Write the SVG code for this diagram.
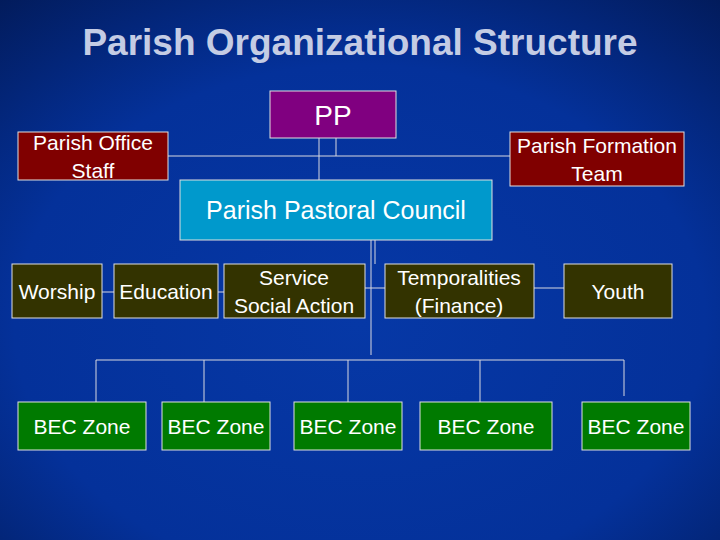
<svg xmlns="http://www.w3.org/2000/svg" width="720" height="540" viewBox="0 0 720 540">
<defs>
<radialGradient id="bg" cx="0.5" cy="0.6" r="0.8">
<stop offset="0" stop-color="#0638a6"/><stop offset="0.6" stop-color="#04319a"/><stop offset="1" stop-color="#021a58"/>
</radialGradient>
<style>
rect.n{stroke:#e0e0e0;stroke-width:1}
text{font-family:"Liberation Sans",Arial,sans-serif;fill:#fff;font-size:21px;text-anchor:middle}
.c line{stroke:#d8d8e0;stroke-width:1}
</style>
</defs>
<rect width="720" height="540" fill="url(#bg)"/>
<text x="360" y="55" style="font-size:37px;font-weight:bold;fill:#c4cce4">Parish Organizational Structure</text>
<g class="c">
<line x1="319" y1="138" x2="319" y2="180"/><line x1="336" y1="138" x2="336" y2="156"/>
<line x1="168" y1="156" x2="510" y2="156"/>
<line x1="371" y1="240" x2="371" y2="355"/><line x1="375" y1="240" x2="375" y2="264"/>
<line x1="102" y1="292" x2="114" y2="292"/><line x1="218" y1="292" x2="236" y2="292"/>
<line x1="355" y1="288" x2="392" y2="288"/><line x1="534" y1="288" x2="564" y2="288"/>
<line x1="96" y1="360" x2="624" y2="360"/>
<line x1="96" y1="360" x2="96" y2="402"/><line x1="204" y1="360" x2="204" y2="402"/>
<line x1="348" y1="360" x2="348" y2="402"/><line x1="480" y1="360" x2="480" y2="402"/>
<line x1="624" y1="360" x2="624" y2="396"/>
</g>
<g id="pp"><rect class="n" x="270" y="91" width="126" height="47" fill="#800080"/><text x="333" y="125" style="font-size:28px">PP</text></g>
<g id="office"><rect class="n" x="18" y="132" width="150" height="48" fill="#800000"/><text x="93" y="150">Parish Office</text><text x="93" y="178">Staff</text></g>
<g id="formation"><rect class="n" x="510" y="132" width="174" height="54" fill="#800000"/><text x="597" y="153">Parish Formation</text><text x="597" y="181">Team</text></g>
<g id="ppc"><rect class="n" x="180" y="180" width="312" height="60" fill="#0099cc"/><text x="336" y="219" style="font-size:25px">Parish Pastoral Council</text></g>
<g id="worship"><rect class="n" x="12" y="264" width="90" height="54" fill="#333300"/><text x="57" y="299">Worship</text></g>
<g id="education"><rect class="n" x="114" y="264" width="104" height="54" fill="#333300"/><text x="166" y="299">Education</text></g>
<g id="service"><rect class="n" x="224" y="264" width="141" height="54" fill="#333300"/><text x="294" y="285">Service</text><text x="294" y="313">Social Action</text></g>
<g id="temp"><rect class="n" x="385" y="264" width="149" height="54" fill="#333300"/><text x="459" y="285">Temporalities</text><text x="459" y="313">(Finance)</text></g>
<g id="youth"><rect class="n" x="564" y="264" width="108" height="54" fill="#333300"/><text x="618" y="299">Youth</text></g>
<g id="bec1"><rect class="n" x="18" y="402" width="128" height="48" fill="#007a00"/><text x="82" y="434">BEC Zone</text></g>
<g id="bec2"><rect class="n" x="162" y="402" width="108" height="48" fill="#007a00"/><text x="216" y="434">BEC Zone</text></g>
<g id="bec3"><rect class="n" x="294" y="402" width="108" height="48" fill="#007a00"/><text x="348" y="434">BEC Zone</text></g>
<g id="bec4"><rect class="n" x="420" y="402" width="132" height="48" fill="#007a00"/><text x="486" y="434">BEC Zone</text></g>
<g id="bec5"><rect class="n" x="582" y="402" width="108" height="48" fill="#007a00"/><text x="636" y="434">BEC Zone</text></g>
</svg>
